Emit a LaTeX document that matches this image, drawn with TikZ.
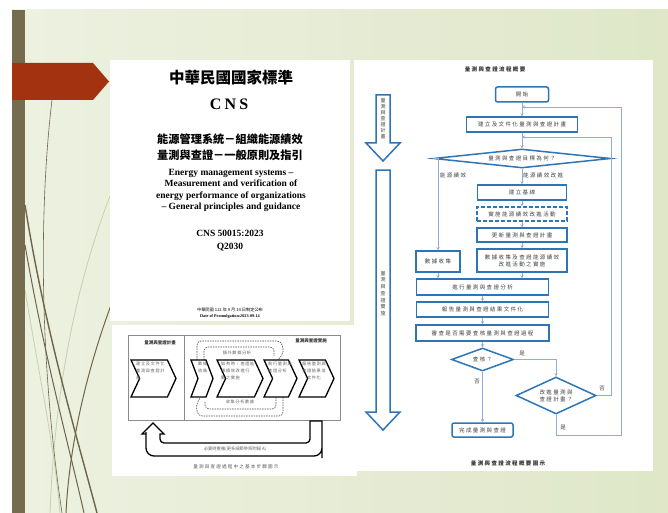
\documentclass[tikz,border=0pt]{standalone}
\usepackage{fontspec}
\setmainfont{Liberation Serif}
\newfontfamily\cjk{Noto Sans CJK TC}
\newfontfamily\cjkls{Noto Sans CJK TC}[LetterSpace=25]
\newfontfamily\cjkbl{Noto Sans CJK TC}[LetterSpace=15]
\newfontfamily\cnsls{Liberation Serif}[LetterSpace=20]
\usetikzlibrary{shapes.geometric,arrows.meta}
\newcommand\myfs[2]{\fontsize{#1}{#2}\selectfont}
\definecolor{fcblue}{HTML}{2E75B6}
\definecolor{fcline}{HTML}{8FAADC}
\definecolor{fctext}{HTML}{404040}
\definecolor{greenL}{HTML}{EDF1E1}
\definecolor{greenR}{HTML}{DFE7C8}
\definecolor{barbrown}{HTML}{756B4F}
\definecolor{arrowred}{HTML}{A33211}
\definecolor{decodark}{HTML}{6E6448}
\definecolor{decopale}{HTML}{C9CEB2}
\tikzset{
  fc/.style={draw=fcblue, line width=1.5pt, fill=white, inner sep=0pt,
    font=\cjkls\myfs{5.5}{7}, text=fctext, align=center},
  fcd/.style={fc, shape=diamond},
  conn/.style={draw=fcline, line width=0.8pt, -{Stealth[length=3pt,width=3pt]}},
  lbl/.style={font=\cjkls\myfs{5.5}{7}, text=fctext, inner sep=0pt},
  bigarr/.style={draw=fcblue, line width=1.5pt, fill=white},
  vtext/.style={font=\cjk\myfs{5}{6}, text=black!75, align=center, inner sep=0pt},
  bltext/.style={font=\cjkbl\myfs{4.2}{7}, text=black!60, inner sep=0pt, align=left},
  blhead/.style={font=\cjk\bfseries\myfs{4.5}{5}, text=black!80, inner sep=0pt},
  chev/.style={draw=black, line width=1.3pt, fill=white},
  dloop/.style={draw=black!70, line width=0.6pt, dash pattern=on 1.5pt off 1pt, rounded corners=4pt},
  bkarr/.style={draw=black, line width=1.3pt, fill=white},
}
\newcommand\chevron[3]{%
  \draw[chev] (#1,360) -- ({#2-#3},360) -- (#2,378.5) -- ({#2-#3},397) -- (#1,397) -- ({#1+#3},378.5) -- cycle;}
\begin{document}
\begin{tikzpicture}[x=1pt,y=-1pt]
\useasboundingbox (0,0) rectangle (668,513);
\fill[white] (0,0) rectangle (668,513);
\shade[left color=greenL, right color=greenR] (12,10) rectangle (668,513);
% decorative strokes
\begin{scope}
\clip (25,10) rectangle (668,513);
\draw[decopale, line width=0.8pt] (125,160) .. controls (80,260) and (55,380) .. (50,513);
\draw[decopale, line width=0.8pt] (25,290) .. controls (40,380) and (55,450) .. (60,513);
\draw[decodark, line width=0.6pt] (52,100) .. controls (40,200) and (38,350) .. (62,513);
\draw[decodark, line width=1.4pt] (25,205) .. controls (45,330) and (75,430) .. (97,513);
\draw[decodark, line width=1pt] (25,245) .. controls (45,360) and (70,450) .. (84,513);
\draw[decodark, line width=1pt] (125,270) .. controls (95,340) and (70,430) .. (66,513);
\end{scope}
\fill[barbrown] (12,10) rectangle (25,513);
\fill[arrowred] (12,63) -- (93,63) -- (109,81.5) -- (93,100) -- (12,100) -- cycle;
% panels
\fill[white] (110,60) rectangle (350,321);
\fill[white] (112,325) rectangle (357,476);
\fill[white] (354,60) rectangle (653,471);
% ---------- document cover ----------
\node[font=\cjk\bfseries\myfs{15.5}{16}] (dtitle) at (231,78) {中華民國國家標準};
\node[font=\cnsls\bfseries\myfs{16}{16}] (dcns) at (229,104) {CNS};
\node[font=\cjk\bfseries\myfs{11.2}{15.5}, align=center] (dname) at (230,147.5) {能源管理系統－組織能源績效\\量測與查證－一般原則及指引};
\node[font=\bfseries\myfs{9.5}{11.6}, align=center] (deng) at (231,190.5) {Energy management systems –\\Measurement and verification of\\energy performance of organizations\\– General principles and guidance};
\node[font=\bfseries\myfs{9.5}{12.4}, align=center] (dcode) at (230,240.5) {CNS 50015:2023\\Q2030};
\node[font=\cjk\myfs{4.2}{6.5}, align=center] (dprom) at (230,313) {中華民國 112 年 9 月 14 日制定公布\\{\rmfamily\bfseries Date of Promulgation:2023-09-14}};
% ---------- basic steps diagram ----------
\draw[black!45, line width=0.6pt] (128,335) rectangle (340,420);
\draw[black!45, line width=0.6pt] (184,335) -- (184,420);
\node[blhead] (hplan) at (160,343) {量測與查證計畫};
\node[blhead] (himpl) at (311,341) {量測與查證實施};
% dashed loops
\draw[dloop] (197,360) -- (197,341) -- (281,341) -- (284,352) -- (278,360);
\draw[dloop] (204,360) -- (204,347) -- (274,347) -- (274,356);
\draw[dloop] (283,397) -- (283,416) -- (198,416) -- (196,405) -- (200,398);
\draw[dloop] (276,397) -- (276,409) -- (205,409) -- (205,401);
\node[bltext] (lextra) at (237,353) {額外數據分析};
\node[bltext] (lcoll) at (240,402) {收集分析數據};
% chevrons
\chevron{131}{176}{8.6}
\chevron{191}{213}{7}
\chevron{217}{263}{8.6}
\chevron{264}{297}{8.6}
\chevron{299}{334}{8.6}
\node[bltext, anchor=north west] (c1) at (136,362) {建立及文件化\\量測與查證計\\畫};
\node[bltext, anchor=north west] (c2) at (198,362) {數據\\收集};
\node[bltext, anchor=north west] (c3) at (221,362) {如有時，查證能\\源績效改進行\\動之實施};
\node[bltext, anchor=north west] (c4) at (268,362) {執行量測與\\查證分析};
\node[bltext, anchor=north, align=center] (c5) at (314,362) {報告量測與\\查證結果並\\文件化};
% big return arrow
\draw[bkarr] (310,421) -- (322,421) [rounded corners=8pt] -- (322,450) -- (322,456) -- (146,456) -- (146,440) [sharp corners] -- (146,434) -- (142,434) -- (153,423) -- (164,434) -- (160,434) -- (160,438) [rounded corners=4pt] -- (160,443) -- (310,443) -- (310,436) [sharp corners] -- (310,421) -- cycle;
\node[font=\cjk\myfs{4.3}{5}, text=black!60] (lrep) at (235,449.5) {必要時重複(更多細節參照附錄 A)};
\node[font=\cjkls\myfs{4.6}{5}, text=black!65] (lcap) at (236,467) {量測與查證過程中之基本步驟圖示};
% ---------- flowchart ----------
\node[font=\cjkls\bfseries\myfs{5.5}{6}, text=black!80] (ftitle) at (495,69) {量測與查證流程概要};
\node[font=\cjkls\bfseries\myfs{5.5}{6}, text=black!80] (fcap) at (508,463) {量測與查證流程概要圖示};
\draw[bigarr] (376,95) -- (390,95) -- (390,143) -- (400,143) -- (383,161) -- (366,143) -- (376,143) -- cycle;
\draw[bigarr] (376,170) -- (390,170) -- (390,412) -- (400,412) -- (383,430) -- (366,412) -- (376,412) -- cycle;
\node[vtext] (v1) at (383,119) {量\\測\\與\\查\\證\\計\\畫};
\node[vtext, font=\cjk\myfs{5}{6.7}] (v2) at (383,293.5) {量\\測\\與\\查\\證\\實\\施};

\node[fc, rounded corners=2pt, minimum width=53pt, minimum height=15pt] (start) at (522,94.5) {開始};
\node[fc, minimum width=111pt, minimum height=15pt] (plan) at (522,124.5) {建立及文件化量測與查證計畫};
\node[fcd, aspect=9.3, minimum width=177pt, minimum height=19pt] (goal) at (522,158.5) {量測與查證目標為何？};
\node[fc, minimum width=89pt, minimum height=15pt] (base) at (522,192.5) {建立基線};
\node[fc, dash pattern=on 4pt off 2pt, minimum width=90pt, minimum height=14pt] (impl) at (522,214) {實施能源績效改進活動};
\node[fc, minimum width=90pt, minimum height=14pt] (upd) at (522,235) {更新量測與查證計畫};
\node[fc, minimum width=90pt, minimum height=23pt] (cv) at (522,260.5) {數據收集及查證能源績效\\改進活動之實施};
\node[fc, minimum width=44pt, minimum height=21pt] (coll) at (438,261.5) {數據收集};
\node[fc, minimum width=132pt, minimum height=16pt] (anal) at (482.5,287) {進行量測與查證分析};
\node[fc, minimum width=132pt, minimum height=15pt] (rep) at (482.5,309.5) {報告量測與查證結果文件化};
\node[fc, minimum width=133pt, minimum height=16pt] (rev) at (482.5,333) {審查是否需要查核量測與查證過程};
\node[fcd, aspect=2.7, minimum width=62pt, minimum height=23pt] (chk) at (482.5,359.5) {查核？};
\node[fcd, aspect=2.2, minimum width=80pt, minimum height=37pt] (imp) at (556,395.5) {改進量測與\\查證計畫？};
\node[fc, rounded corners=2pt, minimum width=61pt, minimum height=14pt] (fin) at (482.5,430) {完成量測與查證};

\coordinate (rA) at (611,137);
\coordinate (jA) at (522,137);
\coordinate (bB) at (621,435);
\coordinate (rB) at (621,107);
\coordinate (jB) at (522,107);

\draw[conn] (start) -- (plan);
\draw[conn] (plan) -- (goal);
\draw[conn] (goal) -- (base);
\draw[conn] (goal.west) -| (coll.north);
\draw[conn] (base) -- (impl);
\draw[conn] (impl) -- (upd);
\draw[conn] (upd) -- (cv);
\draw[conn] (cv.south) -- (cv.south |- anal.north);
\draw[conn] (coll.south) -- (coll.south |- anal.north);
\draw[conn] (anal) -- (rep);
\draw[conn] (rep) -- (rev);
\draw[conn] (rev) -- (chk);
\draw[conn] (chk.east) -| (imp.north);
\draw[conn] (chk.south) -- (fin.north);
\draw[conn] (imp.east) -| (rA) -- (jA);
\draw[conn] (imp.south) |- (bB) -- (rB) -- (jB);

\node[lbl] (l1) at (453,175) {能源績效};
\node[lbl, anchor=west] (l2) at (523,175) {能源績效改進};
\node[lbl] (l3) at (522,354) {是};
\node[lbl] (l4) at (477,382) {否};
\node[lbl] (l5) at (602,389) {否};
\node[lbl] (l6) at (563,428) {是};
\end{tikzpicture}
\end{document}
